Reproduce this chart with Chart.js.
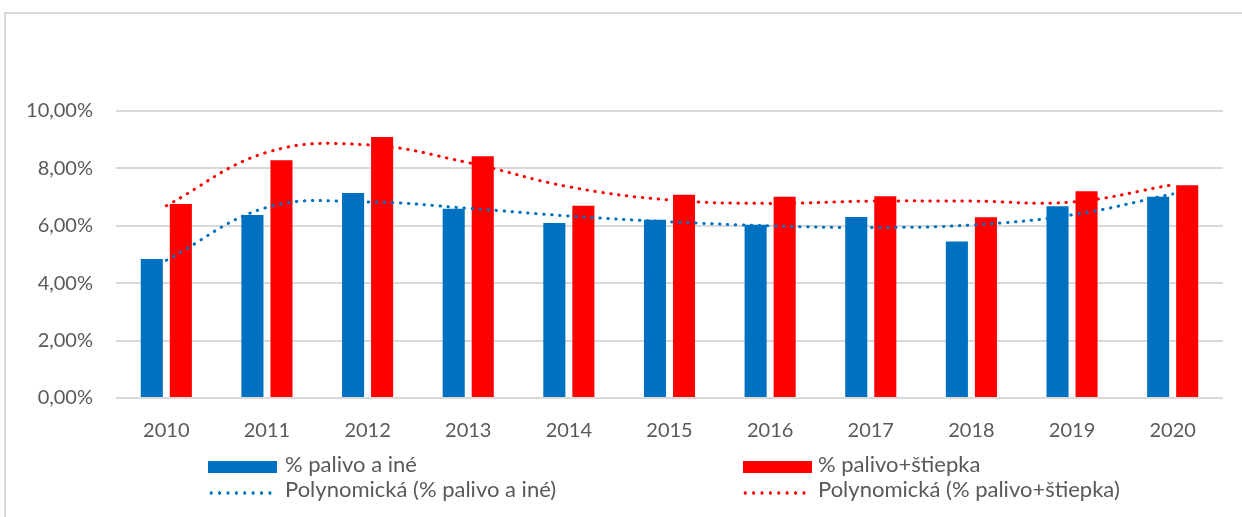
<!DOCTYPE html>
<html>
<head>
<meta charset="utf-8">
<script src="https://cdn.jsdelivr.net/npm/chart.js@4"></script>
<style>
  html, body { margin: 0; padding: 0; background: #fff; }
  body { width: 1242px; height: 517px; position: relative; overflow: hidden; font-family: Lato, "Open Sans", sans-serif; }
  #frame { position: absolute; left: 4px; top: 12px; width: 1300px; height: 600px; border-left: 2px solid #d9d9d9; border-top: 2px solid #d9d9d9; }
  #wrap { position: absolute; left: 0; top: 0; width: 1242px; height: 517px; }
  .lg { position: absolute; font-size: 22px; color: #595959; white-space: nowrap; line-height: 22px; }
  .box { position: absolute; width: 69px; height: 12px; }
  .dots { position: absolute; width: 70px; height: 4px; background-size: 8.4px 4px; background-repeat: repeat-x; }
  .dots.b { background-image: radial-gradient(circle, #0070C0 1.5px, transparent 1.9px); }
  .dots.r { background-image: radial-gradient(circle, #FF0000 1.5px, transparent 1.9px); }
</style>
</head>
<body>
<div id="frame"></div>
<div id="wrap"><canvas id="chart" width="1242" height="517"></canvas></div>

<div class="box" style="left:208px; top:461px; background:#0070C0;"></div>
<div class="lg" style="left:285px; top:453px;">% palivo a iné</div>
<div class="box" style="left:743px; top:461px; background:#FF0000;"></div>
<div class="lg" style="left:818px; top:453px;">% palivo+štiepka</div>
<div class="dots b" style="left:207px; top:491px;"></div>
<div class="lg" style="left:285px; top:478px;">Polynomická (% palivo a iné)</div>
<div class="dots r" style="left:741px; top:491px;"></div>
<div class="lg" style="left:818px; top:478px;">Polynomická (% palivo+štiepka)</div>

<script>
// roky
var years = ['2010', '2011', '2012', '2013', '2014', '2015', '2016', '2017', '2018', '2019', '2020'];

// hodnoty v %
var palivoAIne      = [4.84, 6.38, 7.14, 6.59, 6.10, 6.21, 6.04, 6.31, 5.45, 6.68, 7.01];
var palivoStiepka   = [6.76, 8.28, 9.09, 8.42, 6.70, 7.08, 7.01, 7.03, 6.30, 7.20, 7.41];

// polynomicke trendy odcitane z grafu
var trendAIne       = [4.80, 6.64, 6.83, 6.61, 6.34, 6.14, 6.00, 5.94, 6.03, 6.38, 7.11];
var trendStiepka    = [6.70, 8.56, 8.82, 8.20, 7.36, 6.90, 6.78, 6.86, 6.86, 6.83, 7.43];

var yTicks = [0, 2, 4, 6, 8, 10];

var blue = '#0070C0';
var red = '#FF0000';

var ctx = document.getElementById('chart').getContext('2d');
var chart = new Chart(ctx, {
    data: {
        labels: years,
        datasets: [
            {
                type: 'line',
                label: 'Polynomická (% palivo a iné)',
                data: trendAIne,
                borderColor: blue,
                borderWidth: 3,
                borderDash: [0.5, 7.5],
                borderCapStyle: 'round',
                pointRadius: 0,
                tension: 0.4,
                fill: false,
                order: 0
            },
            {
                type: 'line',
                label: 'Polynomická (% palivo+štiepka)',
                data: trendStiepka,
                borderColor: red,
                borderWidth: 3,
                borderDash: [0.5, 7.5],
                borderCapStyle: 'round',
                pointRadius: 0,
                tension: 0.4,
                fill: false,
                order: 0
            },
            {
                type: 'bar',
                label: '% palivo a iné',
                data: palivoAIne,
                backgroundColor: blue,
                categoryPercentage: 0.577,
                barPercentage: 0.76,
                order: 1
            },
            {
                type: 'bar',
                label: '% palivo+štiepka',
                data: palivoStiepka,
                backgroundColor: red,
                categoryPercentage: 0.577,
                barPercentage: 0.76,
                order: 1
            }
        ]
    },
    options: {
        responsive: false,
        animation: false,
        layout: {
            padding: { left: 0, top: 111, right: 19, bottom: 79 }
        },
        plugins: {
            legend: { display: false },
            tooltip: { enabled: false }
        },
        scales: {
            x: {
                grid: { display: false, drawTicks: false },
                border: { display: false },
                ticks: {
                    color: '#595959',
                    font: { family: 'Lato', size: 20 },
                    padding: 21
                },
                afterFit: function(s) { s.height = 40; }
            },
            y: {
                min: 0,
                max: 10,
                afterBuildTicks: function(s) { s.ticks = yTicks.map(function(v) { return { value: v }; }); },
                grid: { color: '#d9d9d9', lineWidth: 2, drawTicks: false },
                border: { display: false },
                ticks: {
                    color: '#595959',
                    font: { family: 'Lato', size: 20 },
                    padding: 23,
                    callback: function(v) { return v.toFixed(2).replace('.', ',') + '%'; }
                },
                afterFit: function(s) { s.width = 116; }
            }
        }
    }
});
</script>
</body>
</html>
